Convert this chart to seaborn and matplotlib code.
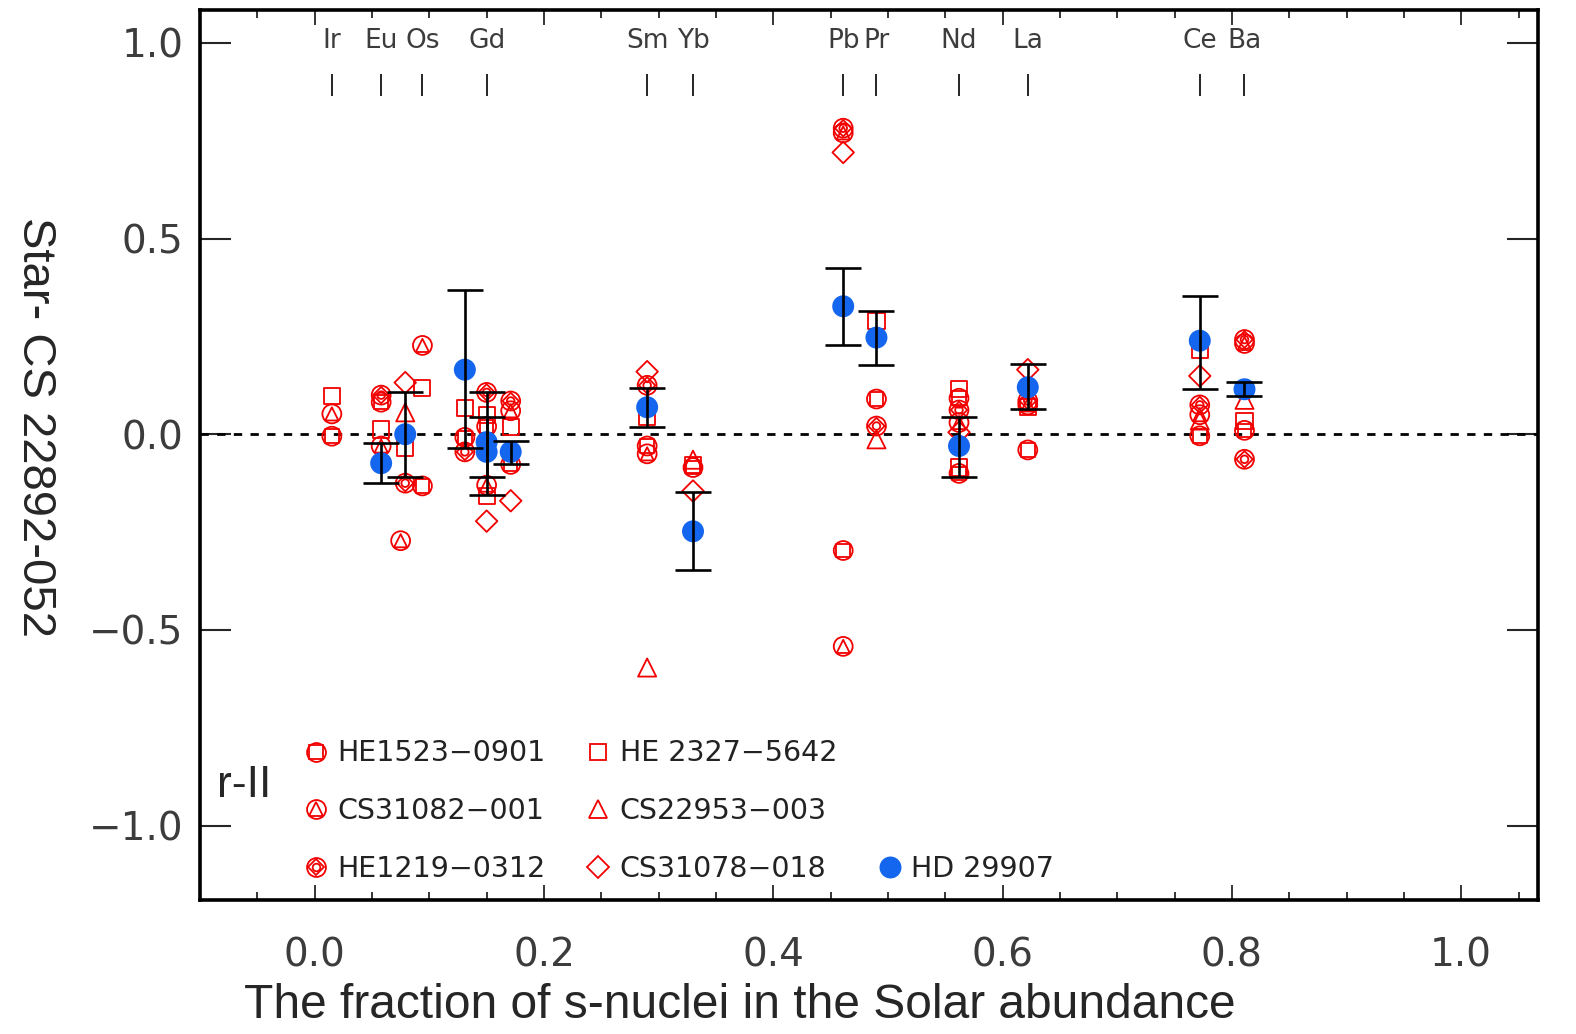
import numpy as np
import pandas as pd
import matplotlib
matplotlib.use("Agg")
import matplotlib.pyplot as plt
import seaborn as sns
from matplotlib.lines import Line2D
from matplotlib.legend_handler import HandlerTuple

# ---------------- data ----------------
elements = ["Ir", "Eu", "Os", "Gd", "Sm", "Yb", "Pb", "Pr", "Nd", "La", "Ce", "Ba"]
element_x = [0.015, 0.058, 0.094, 0.150, 0.290, 0.330, 0.461, 0.490, 0.562, 0.622, 0.772, 0.811]

he1523_x = [0.015, 0.058, 0.094, 0.131, 0.150, 0.171, 0.290, 0.330, 0.461, 0.490, 0.562, 0.562, 0.622, 0.772, 0.811]
he1523_y = [-0.005, 0.082, -0.132, -0.008, 0.020, -0.077, -0.030, -0.085, -0.297, 0.090, 0.092, -0.100, -0.040, -0.004, 0.010]

he2327_x = [0.015, 0.058, 0.079, 0.094, 0.131, 0.150, 0.150, 0.171, 0.290, 0.330, 0.490, 0.562, 0.562, 0.622, 0.772, 0.811]
he2327_y = [0.098, 0.012, -0.036, 0.118, 0.066, 0.050, -0.158, 0.018, 0.045, -0.078, 0.290, 0.115, -0.085, 0.070, 0.215, 0.034]

cs31082_x = [0.015, 0.058, 0.075, 0.094, 0.150, 0.171, 0.290, 0.461, 0.461, 0.562, 0.622, 0.772, 0.811]
cs31082_y = [0.052, -0.030, -0.272, 0.227, -0.130, 0.060, -0.050, 0.770, -0.542, 0.030, 0.075, 0.050, 0.232]

cs22953_x = [0.079, 0.290, 0.330, 0.490, 0.772, 0.811]
cs22953_y = [0.056, -0.596, -0.065, -0.013, 0.035, 0.088]

he1219_x = [0.058, 0.079, 0.131, 0.150, 0.171, 0.290, 0.461, 0.490, 0.562, 0.622, 0.772, 0.811, 0.811]
he1219_y = [0.100, -0.125, -0.045, 0.107, 0.085, 0.125, 0.782, 0.021, 0.062, 0.085, 0.075, 0.242, -0.064]

cs31078_x = [0.079, 0.150, 0.171, 0.290, 0.330, 0.461, 0.562, 0.622, 0.772]
cs31078_y = [0.132, -0.222, -0.170, 0.160, -0.145, 0.720, 0.005, 0.165, 0.149]

hd_x = [0.058, 0.079, 0.131, 0.150, 0.150, 0.171, 0.290, 0.330, 0.461, 0.490, 0.562, 0.622, 0.772, 0.811]
hd_y = [-0.074, 0.000, 0.165, -0.020, -0.045, -0.045, 0.069, -0.248, 0.327, 0.247, -0.030, 0.120, 0.239, 0.115]
hd_err_lo = [0.051, 0.110, 0.200, 0.090, 0.110, 0.030, 0.050, 0.100, 0.099, 0.071, 0.080, 0.056, 0.124, 0.018]
hd_err_hi = [0.051, 0.108, 0.203, 0.128, 0.090, 0.028, 0.050, 0.100, 0.098, 0.068, 0.074, 0.060, 0.115, 0.018]

legend_labels = ["HE1523\u22120901", "CS31082\u2212001", "HE1219\u22120312",
                 "HE 2327\u22125642", "CS22953\u2212003", "CS31078\u2212018", "HD 29907"]

# ---------------- style ----------------
sns.set_style("white")
plt.rcParams["font.family"] = ["DejaVu Sans"]
RED = "#f20000"
BLUE = "#1566ee"
TICKC = "#3c3c3c"

fig = plt.figure(figsize=(15.76, 10.34), dpi=100)
ax = fig.add_axes([200 / 1576, 1 - 900 / 1034, 1338 / 1576, 890 / 1034])

def df(x, y):
    return pd.DataFrame({"x": x, "y": y})

lw = 1.3
kw = dict(ax=ax, x="x", y="y", facecolor="none", edgecolor=RED, linewidth=lw, legend=False, zorder=3)

# HE1523-0901 : circle + square (bold)
sns.scatterplot(data=df(he1523_x, he1523_y), marker="o", s=185, **kw)
sns.scatterplot(data=df(he1523_x, he1523_y), marker="s", s=95, **kw)
# HE 2327-5642 : open square
sns.scatterplot(data=df(he2327_x, he2327_y), marker="s", s=135, **kw)
# CS31082-001 : circle + triangle
sns.scatterplot(data=df(cs31082_x, cs31082_y), marker="o", s=185, **kw)
sns.scatterplot(data=df(cs31082_x, cs31082_y), marker="^", s=90, **kw)
# CS22953-003 : open triangle
sns.scatterplot(data=df(cs22953_x, cs22953_y), marker="^", s=170, **kw)
# HE1219-0312 : circle + diamond + small circle
sns.scatterplot(data=df(he1219_x, he1219_y), marker="o", s=185, **kw)
sns.scatterplot(data=df(he1219_x, he1219_y), marker="D", s=70, **kw)
sns.scatterplot(data=df(he1219_x, he1219_y), marker="o", s=30, **kw)
# CS31078-018 : open diamond
sns.scatterplot(data=df(cs31078_x, cs31078_y), marker="D", s=120, **kw)

# HD 29907 : filled blue circles with error bars
sns.scatterplot(data=df(hd_x, hd_y), x="x", y="y", ax=ax, marker="o", s=250,
                color=BLUE, edgecolor="none", legend=False, zorder=4)
ax.errorbar(hd_x, hd_y, yerr=[hd_err_lo, hd_err_hi], fmt="none", ecolor="black",
            elinewidth=1.9, capsize=13, capthick=1.9, zorder=5)

# zero line
ax.axhline(0, color="black", lw=2.0, ls=(0, (3, 3)), zorder=2)

# element markers on top
for name, xe in zip(elements, element_x):
    ax.text(xe, 1.005, name, ha="center", va="center", fontsize=19, color=TICKC)
ax.vlines(element_x, 0.864, 0.921, color="black", lw=1.2)

# axes
ax.set_xlim(-0.1, 1.067)
ax.set_ylim(-1.19, 1.084)
ax.set_xticks([0.0, 0.2, 0.4, 0.6, 0.8, 1.0])
ax.set_xticks(np.arange(-0.05, 1.07, 0.05), minor=True)
ax.set_yticks([-1.0, -0.5, 0.0, 0.5, 1.0])
ax.set_xticklabels(["0.0", "0.2", "0.4", "0.6", "0.8", "1.0"])
ax.set_yticklabels(["\u22121.0", "\u22120.5", "0.0", "0.5", "1.0"])
ax.tick_params(axis="x", which="major", direction="in", length=11, width=1.3,
               top=True, bottom=True, labelsize=28, labelcolor=TICKC, pad=26)
ax.tick_params(axis="x", which="minor", direction="in", length=6, width=1.3,
               top=True, bottom=True)
ax.tick_params(axis="y", which="major", direction="in", length=22, width=1.5,
               left=True, right=True, labelsize=28, labelcolor=TICKC, pad=12)
for sp in ax.spines.values():
    sp.set_linewidth(2.6)
    sp.set_color("black")

ax.set_xlabel("The fraction of s-nuclei in the Solar abundance", fontsize=34.5,
              family=["Liberation Sans"], va="center")
ax.xaxis.set_label_coords((740 - 200) / 1338, -(1006 - 900) / 890)
ax.set_ylabel("Star- CS 22892-052", fontsize=34, family=["Liberation Sans"],
              rotation=-90, va="center", ha="center")
ax.yaxis.set_label_coords((35 - 200) / 1338, (900 - 427) / 890)

ax.text(0.013, 0.129, "r-II", transform=ax.transAxes, fontsize=32,
        family=["Liberation Sans"], va="center", ha="left")

# legend
def mk(marker, ms, **k):
    return Line2D([], [], linestyle="none", marker=marker, markersize=ms,
                  markerfacecolor=k.get("fc", "none"), markeredgecolor=k.get("ec", RED),
                  markeredgewidth=k.get("mew", lw))

h_he1523 = (mk("o", 13.6), mk("s", 9.7))
h_cs31082 = (mk("o", 13.6), mk("^", 9.5))
h_he1219 = (mk("o", 13.6), mk("D", 8.4), mk("o", 5.5))
h_he2327 = mk("s", 11.6)
h_cs22953 = mk("^", 13)
h_cs31078 = mk("D", 11)
h_hd = mk("o", 15.8, fc=BLUE, ec=BLUE, mew=0)
blank = Line2D([], [], linestyle="none")

handles = [h_he1523, h_cs31082, h_he1219, h_he2327, h_cs22953, h_cs31078, blank, blank, h_hd]
labels = legend_labels[:6] + ["", ""] + [legend_labels[6]]
leg = ax.legend(handles, labels, ncol=3, loc="lower left", bbox_to_anchor=(0.058, -0.01),
                frameon=False, fontsize=20.5, handlelength=0.9, handletextpad=0.3,
                columnspacing=1.4, labelspacing=1.05,
                handler_map={tuple: HandlerTuple(ndivide=1)})
for t in leg.get_texts():
    t.set_color("#222222")

fig.savefig("out.png", dpi=100)
